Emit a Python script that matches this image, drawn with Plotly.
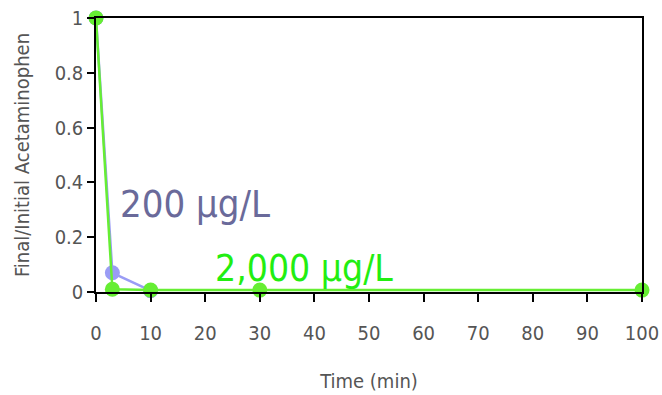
import plotly.graph_objects as go

time_200 = [0, 3, 10]
ratio_200 = [1.0, 0.07, 0.005]
time_2000 = [0, 3, 10, 30, 100]
ratio_2000 = [1.0, 0.01, 0.007, 0.007, 0.007]

x_ticks = [0, 10, 20, 30, 40, 50, 60, 70, 80, 90, 100]
y_ticks = [0, 0.2, 0.4, 0.6, 0.8, 1]
y_tick_text = ["0", "0.2", "0.4", "0.6", "0.8", "1"]

FONT = "DejaVu Sans Condensed, Lato, sans-serif"

fig = go.Figure()
fig.add_trace(go.Scatter(x=time_200, y=ratio_200, mode="lines+markers",
                         line=dict(color="#9a9cf5", width=2.5),
                         marker=dict(color="#9a9cf5", size=15),
                         cliponaxis=False, showlegend=False))
fig.add_trace(go.Scatter(x=time_2000, y=ratio_2000, mode="lines+markers",
                         line=dict(color="#66ee33", width=2.5),
                         marker=dict(color="#66ee33", size=15),
                         cliponaxis=False, showlegend=False))

fig.add_annotation(x=4, y=0.32, text="200 µg/L", showarrow=False, xanchor="left",
                   yanchor="middle", font=dict(size=38, color="#6a6a9a", family=FONT))
fig.add_annotation(x=21.4, y=0.085, text="2,000 µg/L", showarrow=False, xanchor="left",
                   yanchor="middle", font=dict(size=37, color="#22ee11", family=FONT))

fig.update_layout(
    width=662, height=395,
    margin=dict(l=96, r=20, t=18, b=103, autoexpand=False),
    paper_bgcolor="white", plot_bgcolor="white",
    font=dict(family=FONT, color="#555555", size=20),
)
fig.update_xaxes(range=[0, 100], tickvals=x_ticks, showgrid=False, zeroline=False,
                 showline=True, linecolor="black", linewidth=1.5, mirror=True,
                 ticks="outside", ticklen=8, tickcolor="black", tickwidth=1.5,
                 ticklabelstandoff=14, automargin=False,
                 title=dict(text="Time (min)", standoff=30, font=dict(size=20)),
                 tickfont=dict(size=20))
fig.update_yaxes(range=[0, 1], tickvals=y_ticks, ticktext=y_tick_text, showgrid=False,
                 zeroline=False, showline=True, linecolor="black", linewidth=1.5, mirror=True,
                 ticks="outside", ticklen=7, tickcolor="black", tickwidth=1.5,
                 automargin=False,
                 title=dict(text="Final/Initial Acetaminophen", standoff=20, font=dict(size=20)),
                 tickfont=dict(size=20))

fig.write_html("out.html")
